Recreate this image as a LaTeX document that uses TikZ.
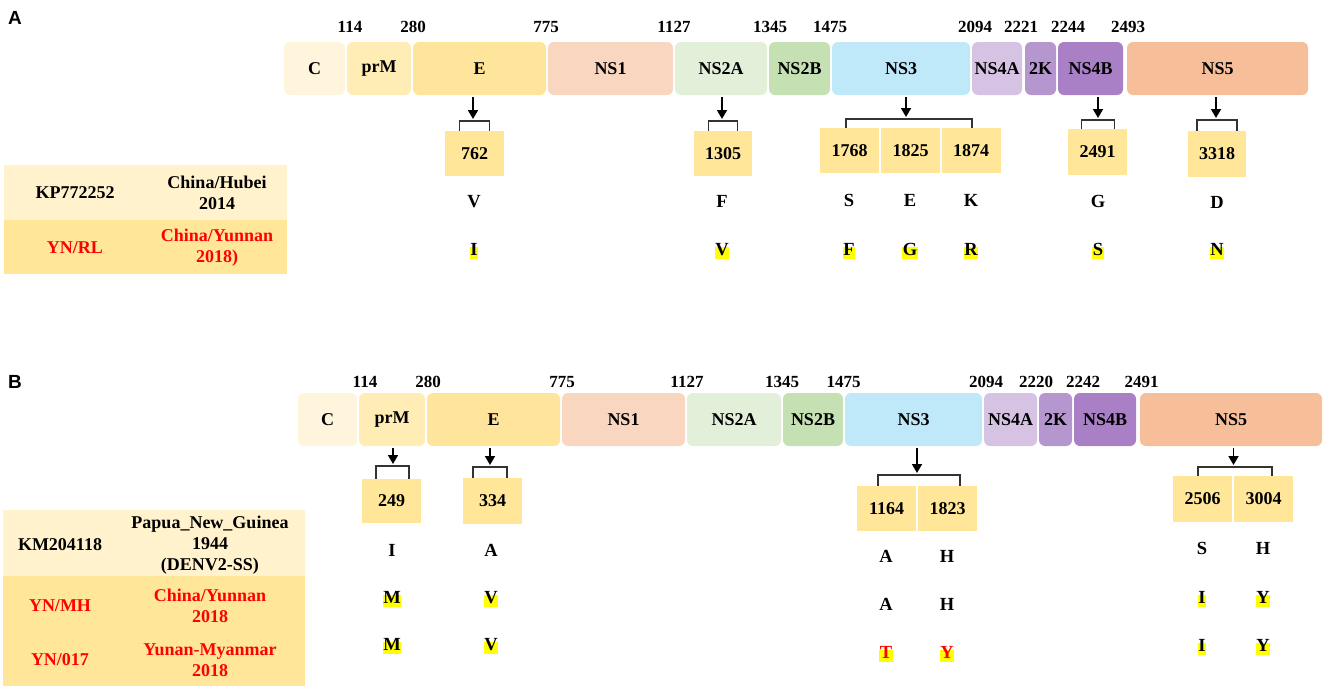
\documentclass[tikz,border=0pt]{standalone}
\usepackage{fontspec}
\setmainfont{Liberation Serif}
\newfontfamily\panelfont{Liberation Sans}
\usetikzlibrary{arrows.meta,calc}
\definecolor{cC}{HTML}{FFF5DD}
\definecolor{cPrM}{HTML}{FFEDB5}
\definecolor{cE}{HTML}{FFE59B}
\definecolor{cNSone}{HTML}{F8D6C0}
\definecolor{cNStwoA}{HTML}{E2EFD9}
\definecolor{cNStwoB}{HTML}{C5E0B3}
\definecolor{cNSthree}{HTML}{BFE8F8}
\definecolor{cNSfourA}{HTML}{D6C3E4}
\definecolor{cTwoK}{HTML}{B596CF}
\definecolor{cNSfourB}{HTML}{A980C6}
\definecolor{cNSfive}{HTML}{F6BF9A}
\definecolor{cPos}{HTML}{FFE699}
\definecolor{cRowL}{HTML}{FFF2CC}
\definecolor{cRowD}{HTML}{FFE699}
\definecolor{cRed}{HTML}{FF0000}
\definecolor{cHl}{HTML}{FFFF00}
\begin{document}
\begin{tikzpicture}[x=1pt,y=-1pt,
  seg/.style={rounded corners=6pt, inner sep=0pt, minimum height=53pt, font=\fontsize{18}{22}\selectfont\bfseries},
  num/.style={inner sep=0pt, font=\fontsize{17}{20}\selectfont\bfseries},
  posb/.style={fill=cPos, inner sep=0pt, minimum width=59pt, font=\fontsize{18}{22}\selectfont\bfseries},
  res/.style={inner sep=0pt, text height=0.78em, text depth=0.22em, font=\fontsize{18.5}{22}\selectfont\bfseries},
  hl/.style={res, fill=cHl, inner xsep=0.4pt, inner ysep=1pt},
  arr/.style={line width=1.7pt, shorten <=2pt, shorten >=2pt, -{Triangle[length=9pt,width=10pt]}},
  brk/.style={line width=1.2pt, draw=black!80},
  tbl/.style={inner sep=0pt, align=center, font=\fontsize{18}{21}\selectfont\bfseries},
  tred/.style={tbl, text=cRed},
  panel/.style={inner sep=0pt, font=\fontsize{19}{22}\panelfont\bfseries}
]
\useasboundingbox (0,0) rectangle (1325,689);

% ================= Panel A =================
\node[panel] (labA) at (15,18) {A};
\foreach \x/\t in {350/114, 413/280, 546/775, 674/1127, 770/1345, 830/1475, 975/2094, 1021/2221, 1068/2244, 1128/2493}
  \node[num] (aN\t) at (\x,27) {\t};

\node[seg, fill=cC, minimum width=61pt] (aC) at (314.5,68.5) {C};
\node[seg, fill=cPrM, minimum width=64pt] (aPrM) at (379,68.5) {prM};
\node[seg, fill=cE, minimum width=133pt] (aE) at (479.5,68.5) {E};
\node[seg, fill=cNSone, minimum width=125pt] (aNSa) at (610.5,68.5) {NS1};
\node[seg, fill=cNStwoA, minimum width=92pt] (aNSb) at (721,68.5) {NS2A};
\node[seg, fill=cNStwoB, minimum width=61pt] (aNSc) at (799.5,68.5) {NS2B};
\node[seg, fill=cNSthree, minimum width=138pt] (aNSd) at (901,68.5) {NS3};
\node[seg, fill=cNSfourA, minimum width=50pt] (aNSe) at (997,68.5) {NS4A};
\node[seg, fill=cTwoK, minimum width=31pt] (aTK) at (1040.5,68.5) {2K};
\node[seg, fill=cNSfourB, minimum width=65pt] (aNSf) at (1090.5,68.5) {NS4B};
\node[seg, fill=cNSfive, minimum width=181pt] (aNSg) at (1217.5,68.5) {NS5};

% position boxes
\node[posb, minimum height=45pt] (p762) at (474.5,153.5) {762};
\node[posb, minimum width=58pt, minimum height=45pt] (p1305) at (723,153.5) {1305};
\node[posb, minimum height=45pt] (p1768) at (849.5,150.5) {1768};
\node[posb, minimum height=45pt] (p1825) at (910.5,150.5) {1825};
\node[posb, minimum height=45pt] (p1874) at (971,150.5) {1874};
\node[posb, minimum height=46pt] (p2491) at (1097.5,152) {2491};
\node[posb, minimum width=58pt, minimum height=46pt] (p3318) at (1217,154) {3318};

% arrows and brackets
\coordinate (bE) at (473,121);
\draw[arr] (bE |- aE.south) -- (bE);
\draw[brk] ($(p762.north)+(-15,0)$) |- (bE) -| ($(p762.north)+(15,0)$);

\coordinate (bNSb) at (722,121);
\draw[arr] (bNSb |- aNSb.south) -- (bNSb);
\draw[brk] ($(p1305.north)+(-14.5,0)$) |- (bNSb) -| ($(p1305.north)+(14.5,0)$);

\coordinate (bNSd) at (906,119);
\draw[arr] (bNSd |- aNSd.south) -- (bNSd);
\draw[brk] ($(p1768.north)+(-3.5,0)$) |- (bNSd) -| ($(p1874.north)+(1,0)$);

\coordinate (bNSf) at (1098,120);
\draw[arr] (bNSf |- aNSf.south) -- (bNSf);
\draw[brk] ($(p2491.north)+(-16,0)$) |- (bNSf) -| ($(p2491.north)+(17,0)$);

\coordinate (bNSg) at (1216,120);
\draw[arr] (bNSg |- aNSg.south) -- (bNSg);
\draw[brk] ($(p3318.north)+(-20,0)$) |- (bNSg) -| ($(p3318.north)+(20,0)$);

% residues
\node[res] (ra1) at (474,205) {V};
\node[hl]  (ra2) at (474,253) {I};
\node[res] (rb1) at (722,205) {F};
\node[hl]  (rb2) at (722,253) {V};
\node[res] (rc1) at (849,204) {S};
\node[hl]  (rc2) at (849,253) {F};
\node[res] (rd1) at (910,204) {E};
\node[hl]  (rd2) at (910,253) {G};
\node[res] (re1) at (971,204) {K};
\node[hl]  (re2) at (971,253) {R};
\node[res] (rf1) at (1098,205) {G};
\node[hl]  (rf2) at (1098,253) {S};
\node[res] (rg1) at (1217,206) {D};
\node[hl]  (rg2) at (1217,253) {N};

% table A
\fill[cRowL] (4,165) rectangle (287,220);
\fill[cRowD] (4,220) rectangle (287,274);
\node[tbl] (tA11) at (75,193) {KP772252};
\node[tbl] (tA12) at (217,193) {China/Hubei\\2014};
\node[tred] (tA21) at (75,248) {YN/RL};
\node[tred] (tA22) at (217,248) {China/Yunnan\\2018)};

% ================= Panel B =================
\node[panel] (labB) at (15,382) {B};
\foreach \x/\t in {365/114, 428/280, 562/775, 687/1127, 782/1345, 843.5/1475, 986/2094, 1036/2220, 1083/2242, 1141.5/2491}
  \node[num] (bN\t) at (\x,382) {\t};

\node[seg, fill=cC, minimum width=59pt] (bC) at (327.5,419.5) {C};
\node[seg, fill=cPrM, minimum width=66pt] (bPrM) at (392,419.5) {prM};
\node[seg, fill=cE, minimum width=133pt] (bE2) at (493.5,419.5) {E};
\node[seg, fill=cNSone, minimum width=123pt] (bNSa) at (623.5,419.5) {NS1};
\node[seg, fill=cNStwoA, minimum width=94pt] (bNSb2) at (734,419.5) {NS2A};
\node[seg, fill=cNStwoB, minimum width=60pt] (bNSc) at (813,419.5) {NS2B};
\node[seg, fill=cNSthree, minimum width=137pt] (bNSd2) at (913.5,419.5) {NS3};
\node[seg, fill=cNSfourA, minimum width=53pt] (bNSe) at (1010.5,419.5) {NS4A};
\node[seg, fill=cTwoK, minimum width=33pt] (bTK) at (1055.5,419.5) {2K};
\node[seg, fill=cNSfourB, minimum width=62pt] (bNSf2) at (1105,419.5) {NS4B};
\node[seg, fill=cNSfive, minimum width=182pt] (bNSg2) at (1231,419.5) {NS5};

% position boxes
\node[posb, minimum height=44pt] (q249) at (391.5,501) {249};
\node[posb, minimum height=46pt] (q334) at (492.5,501) {334};
\node[posb, minimum height=45pt] (q1164) at (886.5,508.5) {1164};
\node[posb, minimum height=45pt] (q1823) at (947.5,508.5) {1823};
\node[posb, minimum height=46pt] (q2506) at (1202.5,499) {2506};
\node[posb, minimum height=46pt] (q3004) at (1263.5,499) {3004};

% arrows and brackets
\coordinate (cPrMb) at (393,466);
\draw[arr] (cPrMb |- bPrM.south) -- (cPrMb);
\draw[brk] ($(q249.north)+(-15.5,0)$) |- (cPrMb) -| ($(q249.north)+(17.5,0)$);

\coordinate (cEb) at (490,467);
\draw[arr] (cEb |- bE2.south) -- (cEb);
\draw[brk] ($(q334.north)+(-19.5,0)$) |- (cEb) -| ($(q334.north)+(14.5,0)$);

\coordinate (cNSdb) at (917,475);
\draw[arr] (cNSdb |- bNSd2.south) -- (cNSdb);
\draw[brk] ($(q1164.north)+(-8.5,0)$) |- (cNSdb) -| ($(q1823.north)+(12.5,0)$);

\coordinate (cNSgb) at (1233.5,467);
\draw[arr] (cNSgb |- bNSg2.south) -- (cNSgb);
\draw[brk] ($(q2506.north)+(-4.5,0)$) |- (cNSgb) -| ($(q3004.north)+(8.5,0)$);

% residues
\node[res] (sa1) at (392,554) {I};
\node[hl]  (sa2) at (392,601) {M};
\node[hl]  (sa3) at (392,648) {M};
\node[res] (sb1) at (491,554) {A};
\node[hl]  (sb2) at (491,601) {V};
\node[hl]  (sb3) at (491,648) {V};
\node[res] (sc1) at (886,560) {A};
\node[res] (sc2) at (886,608) {A};
\node[hl, text=cRed] (sc3) at (886,656) {T};
\node[res] (sd1) at (947,560) {H};
\node[res] (sd2) at (947,608) {H};
\node[hl, text=cRed] (sd3) at (947,656) {Y};
\node[res] (se1) at (1202,552) {S};
\node[hl]  (se2) at (1202,601) {I};
\node[hl]  (se3) at (1202,649) {I};
\node[res] (sf1) at (1263,552) {H};
\node[hl]  (sf2) at (1263,601) {Y};
\node[hl]  (sf3) at (1263,649) {Y};

% table B
\fill[cRowL] (3,510) rectangle (305,576);
\fill[cRowD] (3,576) rectangle (305,686);
\node[tbl] (tB11) at (60,545) {KM204118};
\node[tbl] (tB12) at (210,545) {Papua\_New\_Guinea\\1944\\(DENV2-SS)};
\node[tred] (tB21) at (60,606) {YN/MH};
\node[tred] (tB22) at (210,606) {China/Yunnan\\2018};
\node[tred] (tB31) at (60,660) {YN/017};
\node[tred] (tB32) at (210,660) {Yunan-Myanmar\\2018};
\end{tikzpicture}
\end{document}
